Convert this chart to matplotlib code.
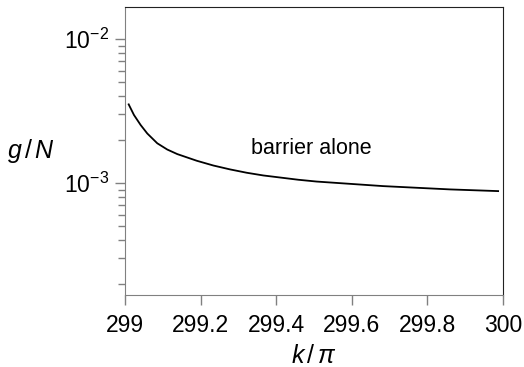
import numpy as np
import matplotlib
matplotlib.use("Agg")
import matplotlib.pyplot as plt
from matplotlib.ticker import LogLocator, NullFormatter

plt.rcParams['font.family'] = ['Liberation Sans', 'DejaVu Sans']
plt.rcParams['mathtext.fontset'] = 'custom'
plt.rcParams['mathtext.rm'] = 'Liberation Sans'
plt.rcParams['mathtext.it'] = 'Liberation Sans:italic'
plt.rcParams['mathtext.sf'] = 'Liberation Sans'

# values
k_over_pi = [299.0098, 299.0238, 299.0415, 299.059, 299.0854, 299.1119,
             299.1384, 299.1897, 299.2336, 299.2778, 299.322, 299.3659,
             299.4585, 299.507, 299.683, 299.860, 299.987]
g_over_N = [3.52e-3, 2.97e-3, 2.53e-3, 2.21e-3, 1.89e-3, 1.71e-3,
            1.59e-3, 1.43e-3, 1.325e-3, 1.245e-3, 1.18e-3, 1.13e-3,
            1.055e-3, 1.025e-3, 9.53e-4, 9.04e-4, 8.80e-4]

xticks = [299, 299.2, 299.4, 299.6, 299.8, 300]
xticklabels = ['299', '299.2', '299.4', '299.6', '299.8', '300']

fig = plt.figure(figsize=(5.24, 3.67), dpi=100)
ax = fig.add_axes([0.2385, 0.196, 0.7215, 0.785])

ax.plot(k_over_pi, g_over_N, color='black', lw=1.3)
ax.set_yscale('log')
ax.set_xlim(299, 300)
ax.set_ylim(1.67e-4, 1.67e-2)

ax.set_xticks(xticks)
ax.set_xticklabels(xticklabels)
ax.yaxis.set_major_locator(LogLocator(base=10, numticks=10))
ax.yaxis.set_minor_locator(LogLocator(base=10, subs=np.arange(2, 10), numticks=20))
ax.yaxis.set_minor_formatter(NullFormatter())

gray = '#808080'
ax.tick_params(which='major', direction='out', length=7.5, width=1, color=gray,
               labelsize=16.5, pad=4)
ax.tick_params(axis='x', which='major', pad=6)
ax.tick_params(which='minor', direction='out', length=5, width=1, color=gray)
ax.tick_params(top=False, right=False)
ax.spines['left'].set_color(gray)
ax.spines['bottom'].set_color(gray)
for s in ['top', 'right']:
    ax.spines[s].set_color('#222222')

ax.set_xlabel(r'$k\,/\,\pi$', fontsize=18, labelpad=5)
ax.set_ylabel(r'$g\,/\,N$', fontsize=18, rotation=0, labelpad=24, va='center')

ax.text(299.492, 1.75e-3, 'barrier alone', fontsize=15.5, ha='center', va='center')

fig.savefig('out.png', dpi=100)
